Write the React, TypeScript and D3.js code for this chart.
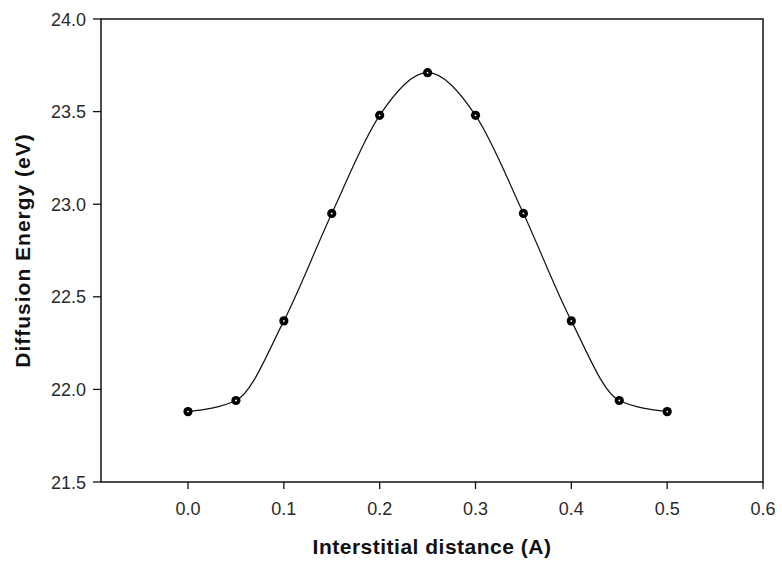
import React from "react";
import * as d3 from "d3";

const xValues = [0.0, 0.05, 0.1, 0.15, 0.2, 0.25, 0.3, 0.35, 0.4, 0.45, 0.5];
const yValues = [21.88, 21.94, 22.37, 22.95, 23.48, 23.71, 23.48, 22.95, 22.37, 21.94, 21.88];
const xTicks = [0.0, 0.1, 0.2, 0.3, 0.4, 0.5, 0.6];
const yTicks = [21.5, 22.0, 22.5, 23.0, 23.5, 24.0];
const xTitle = "Interstitial distance (A)";
const yTitle = "Diffusion Energy (eV)";

export default function App() {
  const W = 782, H = 563;
  const left = 101, right = 763, top = 19, bottom = 482;
  const x = d3.scaleLinear().domain([-0.0908, 0.6]).range([left, right]);
  const y = d3.scaleLinear().domain([21.5, 24.0]).range([bottom, top]);
  const pts: [number, number][] = xValues.map((v, i) => [v, yValues[i]]);
  const line = d3
    .line<[number, number]>()
    .x((d) => x(d[0]))
    .y((d) => y(d[1]))
    .curve(d3.curveMonotoneX);
  const font = "'Liberation Sans', Arial, sans-serif";
  return (
    <svg
      width={W}
      height={H}
      style={{ position: "absolute", left: 0, top: 0, background: "#fff" }}
      fontFamily={font}
    >
      <rect x={0} y={0} width={W} height={H} fill="#fff" />
      <rect
        x={left}
        y={top}
        width={right - left}
        height={bottom - top}
        fill="none"
        stroke="#111"
        strokeWidth={1.5}
      />
      {xTicks.map((t) => (
        <g key={"x" + t}>
          <line x1={x(t)} x2={x(t)} y1={bottom} y2={bottom + 7} stroke="#111" strokeWidth={1.3} />
          <text x={x(t)} y={bottom + 33} textAnchor="middle" fontSize={18} fill="#2a2a2a">
            {t.toFixed(1)}
          </text>
        </g>
      ))}
      {yTicks.map((t) => (
        <g key={"y" + t}>
          <line x1={left - 8} x2={left} y1={y(t)} y2={y(t)} stroke="#111" strokeWidth={1.3} />
          <text x={left - 15} y={y(t) + 6.5} textAnchor="end" fontSize={18} fill="#2a2a2a">
            {t.toFixed(1)}
          </text>
        </g>
      ))}
      <path d={line(pts) || ""} fill="none" stroke="#111" strokeWidth={1.2} />
      {pts.map((p, i) => (
        <g key={"p" + i}>
          <circle cx={x(p[0])} cy={y(p[1])} r={4.6} fill="#000" />
          <circle cx={x(p[0])} cy={y(p[1])} r={0.9} fill="#fff" />
        </g>
      ))}
      <text
        x={(left + right) / 2}
        y={554}
        textAnchor="middle"
        fontSize={21}
        fontWeight="bold"
        letterSpacing={0.5}
        fill="#111"
      >
        {xTitle}
      </text>
      <text
        transform={`translate(30, ${(top + bottom) / 2}) rotate(-90)`}
        textAnchor="middle"
        fontSize={21}
        fontWeight="bold"
        letterSpacing={1}
        fill="#111"
      >
        {yTitle}
      </text>
    </svg>
  );
}
